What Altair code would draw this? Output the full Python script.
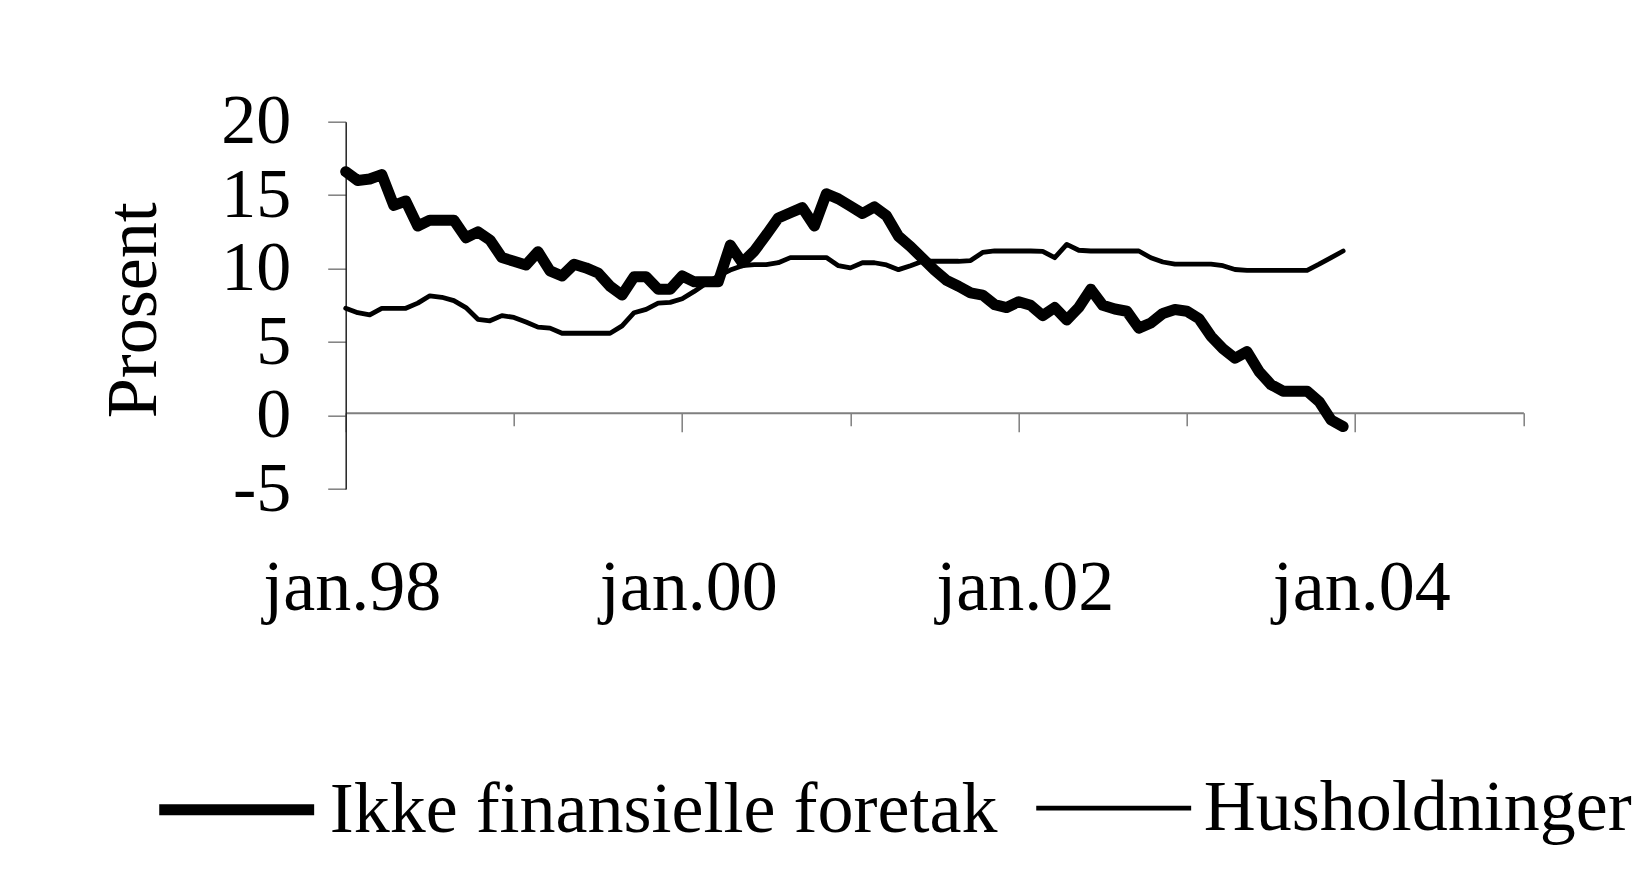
import altair as alt
import pandas as pd

# ---- data ----
series_names = ["Ikke finansielle foretak", "Husholdninger"]

ikke_finansielle = [
    16.6, 16.0, 16.1, 16.4, 14.3, 14.6, 12.9, 13.3, 13.3, 13.3,
    12.1, 12.5, 11.95, 10.75, 10.5, 10.25, 11.15, 9.85, 9.5, 10.3,
    10.05, 9.7, 8.8, 8.2, 9.45, 9.45, 8.6, 8.6, 9.5, 9.1,
    9.1, 9.1, 11.6, 10.4, 11.2, 12.3, 13.45, 13.8, 14.15, 12.9,
    15.1, 14.75, 14.25, 13.75, 14.2, 13.6, 12.2, 11.5, 10.7, 9.9,
    9.2, 8.8, 8.35, 8.2, 7.55, 7.35, 7.75, 7.5, 6.8, 7.35,
    6.5, 7.35, 8.6, 7.5, 7.25, 7.1, 5.95, 6.3, 6.95, 7.22,
    7.1, 6.6, 5.4, 4.55, 3.9, 4.35, 3.0, 2.1, 1.66, 1.66,
    1.66, 0.95, -0.3, -0.75,
]

husholdninger = [
    7.3, 7.0, 6.85, 7.3, 7.3, 7.3, 7.65, 8.15, 8.05, 7.82,
    7.35, 6.55, 6.45, 6.8, 6.68, 6.37, 6.02, 5.95, 5.6, 5.6,
    5.6, 5.6, 5.6, 6.1, 7.0, 7.23, 7.65, 7.7, 7.95, 8.45,
    9.0, 9.5, 9.9, 10.2, 10.27, 10.27, 10.4, 10.75, 10.75, 10.75,
    10.75, 10.2, 10.05, 10.4, 10.4, 10.25, 9.93, 10.2, 10.5, 10.5,
    10.5, 10.5, 10.55, 11.1, 11.2, 11.2, 11.2, 11.2, 11.17, 10.74,
    11.65, 11.25, 11.2, 11.2, 11.2, 11.2, 11.2, 10.74, 10.45, 10.3,
    10.3, 10.3, 10.3, 10.2, 9.94, 9.88, 9.88, 9.88, 9.88, 9.88,
    9.88, 10.3, 10.75, 11.2,
]

x_labels = ["jan.98", "jan.00", "jan.02", "jan.04"]
y_ticks = [-5, 0, 5, 10, 15, 20]

n = len(ikke_finansielle)
df = pd.DataFrame({
    "i": list(range(n)) + list(range(len(husholdninger))),
    "value": ikke_finansielle + husholdninger,
    "series": [series_names[0]] * n + [series_names[1]] * len(husholdninger),
})

FONT = "Liberation Serif"
label_js = "[" + ",".join("'%s'" % s for s in x_labels) + "]"

W = 1177.7
H = 367.3

chart = alt.Chart(df).mark_line(
    color="black", strokeCap="round", strokeJoin="round"
).encode(
    x=alt.X(
        "i:Q",
        scale=alt.Scale(domain=[0, 98], nice=False, zero=False),
        axis=alt.Axis(
            values=list(range(0, 99, 14)),
            labelExpr="datum.value % 28 === 0 ? " + label_js + "[datum.value / 28] : ''",
            offset=-76.3,
            tickSize={"condition": {"test": "datum.value % 28 === 0", "value": 19}, "value": 13},
            tickColor="#7f7f7f",
            tickWidth=1.5,
            domainColor="#7f7f7f",
            domainWidth=2,
            labelPadding=178,
            labelOffset=6,
            labelBaseline="alphabetic",
            labelFont=FONT,
            labelFontSize=72,
            labelColor="black",
            labelOverlap=False,
            labelFlush=False,
            grid=False,
            title=None,
        ),
    ),
    y=alt.Y(
        "value:Q",
        scale=alt.Scale(domain=[-5, 20], nice=False, zero=False),
        axis=alt.Axis(
            values=y_ticks,
            labelExpr="datum.value < 0 ? '-' + abs(datum.value) : '' + datum.value",
            tickSize=18,
            tickColor="#7f7f7f",
            tickWidth=1.5,
            domainColor="#222222",
            domainWidth=1.5,
            labelPadding=37,
            labelFont=FONT,
            labelFontSize=70,
            labelColor="black",
            labelBaseline="middle",
            grid=False,
            title="Prosent",
            titleFont=FONT,
            titleFontSize=72,
            titleFontWeight="normal",
            titleColor="black",
            titleAngle=270,
            titleAlign="center",
            titleBaseline="middle",
            titleX=-212,
            titleY=188,
        ),
    ),
    strokeWidth=alt.StrokeWidth(
        "series:N",
        scale=alt.Scale(domain=series_names, range=[11, 4.8]),
        legend=alt.Legend(
            orient="none",
            legendX=-192,
            legendY=605,
            direction="horizontal",
            title=None,
            symbolType="stroke",
            symbolSize=24000,
            symbolStrokeColor="black",
            labelFont=FONT,
            labelFontSize=72,
            labelColor="black",
            labelLimit=2000,
            labelOffset=10,
            columnPadding=28,
            padding=0,
        ),
    ),
).properties(
    width=W,
    height=H,
    autosize=alt.AutoSizeParams(type="none"),
    padding={"left": 337.7, "top": 113.7, "right": 118.6, "bottom": 372},
).configure(
    background="white"
).configure_view(
    stroke=None
)

chart.save("out.html", embed_options={"renderer": "svg", "actions": False})
